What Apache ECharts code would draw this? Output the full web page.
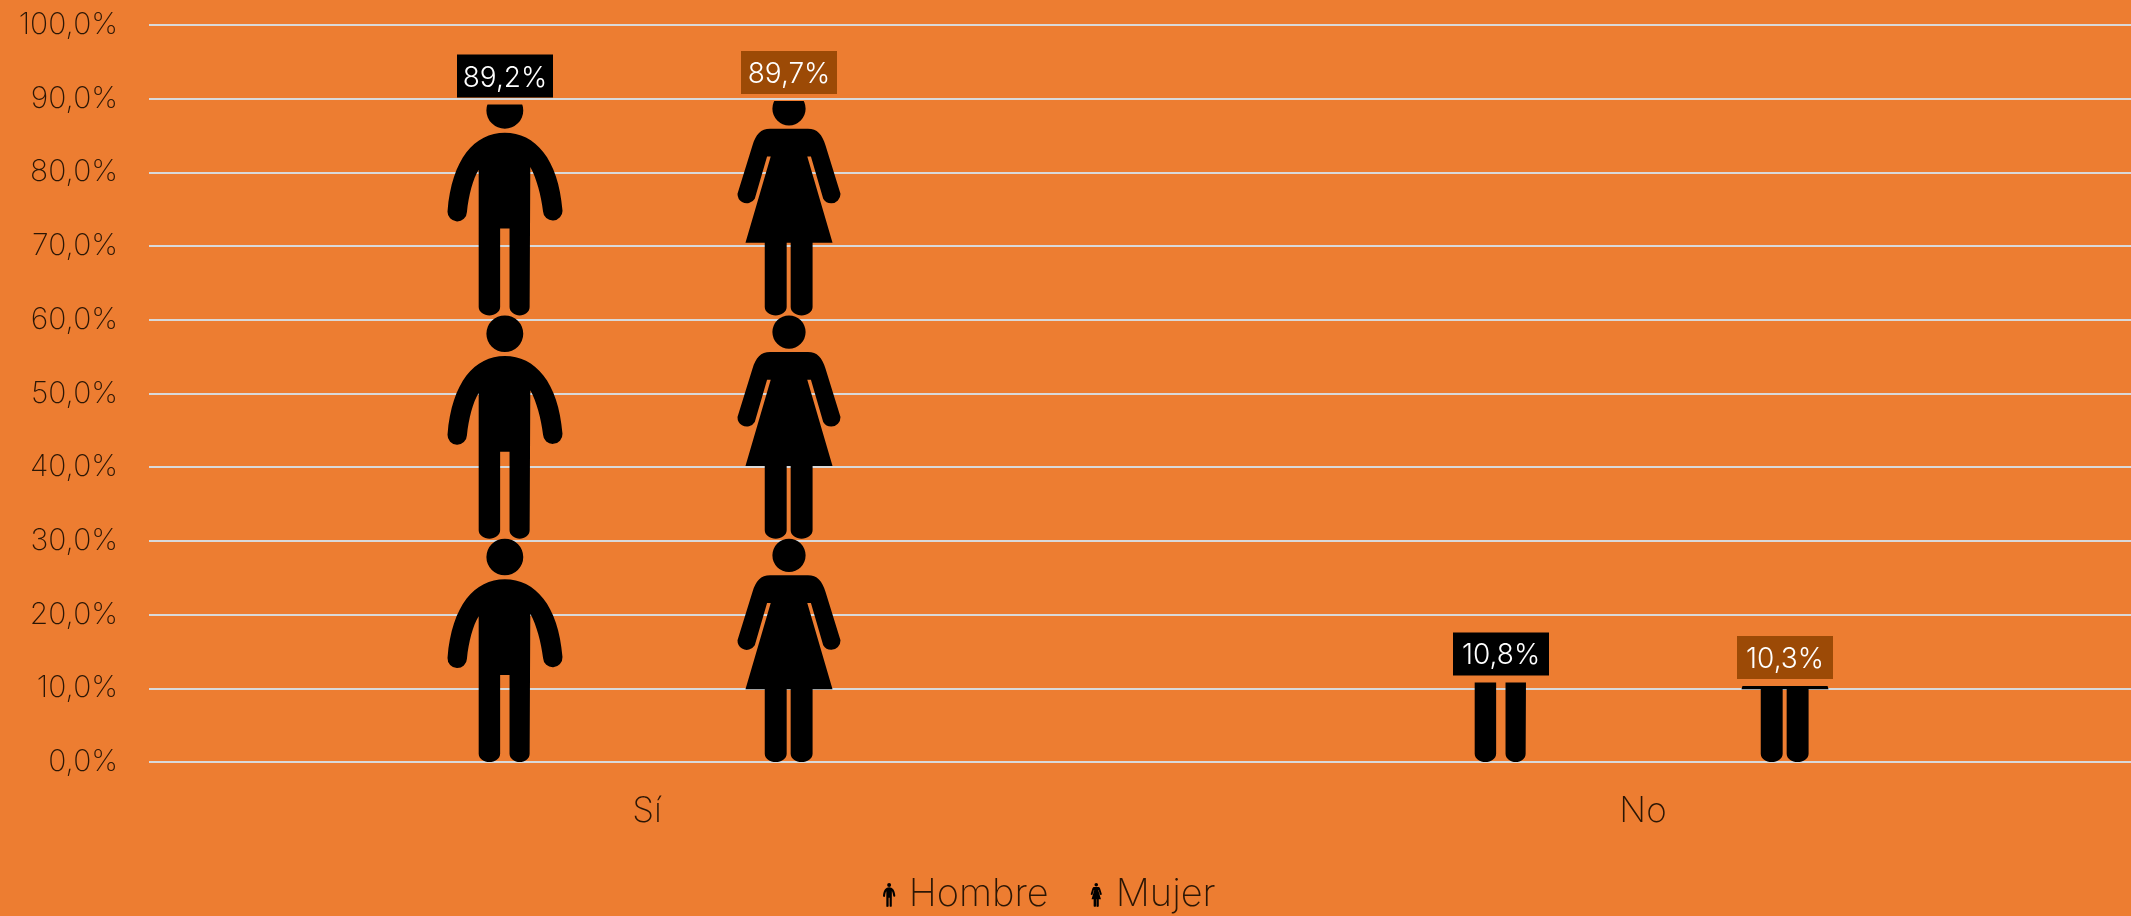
<!DOCTYPE html>
<html>
<head>
<meta charset="utf-8">
<title>Hombre / Mujer</title>
<style>
html,body{margin:0;padding:0;background:#ED7D31;overflow:hidden}
#main{width:2131px;height:916px}
</style>
<script src="https://cdn.jsdelivr.net/npm/echarts@6/dist/echarts.min.js"></script>
</head>
<body>
<div id="main"></div>
<script>
var categories = ['Sí', 'No'];
var hombreValues = [89.2, 10.8];
var mujerValues = [89.7, 10.3];

// iconos de persona (se escalan al tamaño del símbolo)
var manPath = 'path://M0 122C-90 122-158 200-171 358A29 29 0 0 0-113 360C-108 310-95 260-78 233L-78 645C-78 660-62 670-46 670C-30 670-14 660-14 645L-14 409L14 409L14 645C14 660 30 670 44 670C60 670 74 660 74 645L76 225C95 260 108 310 114 358A29 29 0 0 0 172 355C160 200 90 122 0 122ZM-55 55A55 55 0 1 1 55 55A55 55 0 1 1-55 55Z';
var womanPath = 'path://M-57 110L57 110C85 110 100 127 110 160L155 305A28 28 0 0 1 103 320L66 193L55 193L131 452L71 452L71 645C71 660 55 670 38 670C21 670 5 660 5 645L5 452L-7 452L-7 645C-7 660-23 670-40 670C-57 670-73 660-73 645L-73 452L-131 452L-55 193L-66 193L-103 320A28 28 0 0 1-155 305L-110 160C-100 127-85 110-57 110ZM-50 50A50 50 0 1 1 50 50A50 50 0 1 1-50 50Z';

var fontName = 'Inter';
var plotHeight = 737;
// cada figura ocupa 30,3 puntos del eje; 3 figuras = 90,9
var tileValue = 30.3;
var tileCount = 3;
var tileHeight = plotHeight * tileValue / 100;

function pct(v) {
	return v.toFixed(1).replace('.', ',') + '%';
}

function pictoSeries(name, values, path, figWidth) {
	return {
		name: name,
		type: 'pictorialBar',
		data: values,
		symbol: path,
		symbolSize: [figWidth, tileHeight],
		symbolRepeat: 'fixed',
		symbolBoundingData: tileValue * tileCount,
		symbolClip: true,
		symbolMargin: 0,
		barWidth: 142,
		barGap: '100%',
		z: 3,
		itemStyle: {color: '#000'}
	};
}

// barra transparente solo para colocar la etiqueta justo sobre el valor
function labelSeries(name, values, boxColor) {
	return {
		name: name,
		type: 'bar',
		data: values,
		barWidth: 142,
		barGap: '100%',
		z: 4,
		itemStyle: {color: 'transparent'},
		label: {
			show: true,
			position: 'top',
			distance: 7,
			color: '#fff',
			fontFamily: fontName,
			fontWeight: 300,
			fontSize: 28,
			lineHeight: 29,
			width: 80,
			align: 'center',
			backgroundColor: boxColor,
			padding: [9, 8, 5, 8],
			formatter: function(p) { return pct(p.value); }
		}
	};
}

var myChart = echarts.init(document.getElementById('main'));
var option = {
	animation: false,
	backgroundColor: '#ED7D31',
	textStyle: {fontFamily: fontName, fontWeight: 200},
	grid: {left: 149, width: 1992, top: 25, height: plotHeight, outerBoundsMode: 'none'},
	legend: {
		left: 878,
		top: 871,
		itemWidth: 15,
		itemHeight: 24,
		itemGap: 42,
		data: [
			{name: 'Hombre', icon: manPath},
			{name: 'Mujer', icon: womanPath}
		],
		textStyle: {color: '#2b1605', fontFamily: fontName, fontWeight: 200, fontSize: 38, padding: [0, 0, 0, 7]}
	},
	xAxis: {
		type: 'category',
		data: categories,
		axisLine: {show: false},
		axisTick: {show: false},
		axisLabel: {color: '#2b1605', fontFamily: fontName, fontWeight: 200, fontSize: 35, margin: 32}
	},
	yAxis: {
		type: 'value',
		min: 0,
		max: 100,
		interval: 10,
		axisLine: {show: false},
		axisTick: {show: false},
		axisLabel: {
			color: '#2b1605',
			fontFamily: fontName,
			fontWeight: 200,
			fontSize: 30,
			margin: 31,
			padding: [3, 0, 0, 0],
			formatter: function(v) { return pct(v); }
		},
		splitLine: {show: true, lineStyle: {color: '#D9D9D9', width: 2}}
	},
	series: [
		pictoSeries('Hombre', hombreValues, manPath, 115),
		pictoSeries('Mujer', mujerValues, womanPath, 103),
		labelSeries('Hombre etiqueta', hombreValues, '#000'),
		labelSeries('Mujer etiqueta', mujerValues, '#9C4A06')
	]
};
myChart.setOption(option);
</script>
</body>
</html>
